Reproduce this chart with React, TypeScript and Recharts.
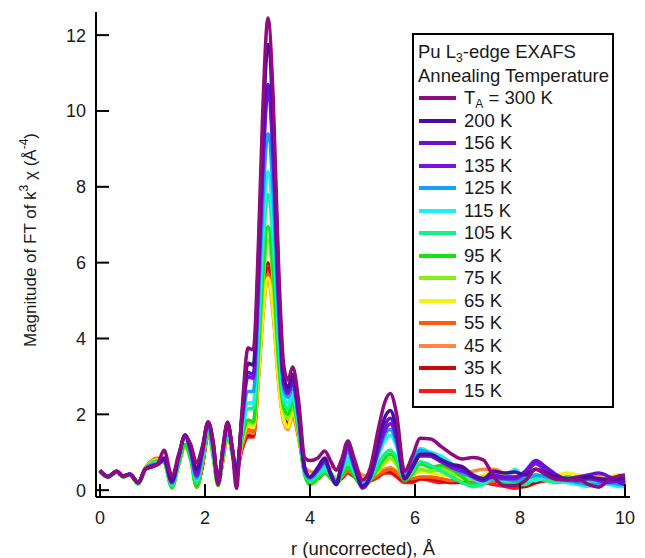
import React from 'react';
import { LineChart, Line, XAxis, YAxis, Legend } from 'recharts';

// r grid (Å)
const R = [0, 0.15, 0.32, 0.44, 0.57, 0.73, 0.86, 1.0, 1.1, 1.22,
  1.37, 1.5, 1.62, 1.73, 1.84, 1.95, 2.06, 2.16, 2.25, 2.34,
  2.43, 2.52, 2.6, 2.7, 2.82, 2.92, 3.02, 3.1, 3.2, 3.3,
  3.4, 3.5, 3.58, 3.67, 3.78, 3.9, 4.0, 4.15, 4.28, 4.4,
  4.5, 4.6, 4.72, 4.85, 5.0, 5.15, 5.3, 5.42, 5.53, 5.65,
  5.8, 5.95, 6.1, 6.3, 6.5, 6.7, 6.9, 7.1, 7.3, 7.5,
  7.7, 7.9, 8.1, 8.3, 8.5, 8.7, 8.9, 9.1, 9.3, 9.5,
  9.7, 9.9, 10.0];

const T300 = [0.53, 0.35, 0.5, 0.36, 0.42, 0.2, 0.55, 0.62, 0.7, 1.05, 0.38, 0.95, 1.42, 1.2, 0.72, 1.15, 1.8, 1.25, 0.15, 1.1, 1.8, 1.05, 0.05, 2.0,
  3.75, 3.7, 6.6, 10.0, 12.45, 10.3, 6.0, 3.3, 2.9, 3.25, 2.4, 0.85,
  0.78, 0.85, 1.03, 0.75, 0.53, 0.8, 1.27, 0.8, 0.27, 0.6, 1.6, 2.3, 2.55, 2.0, 0.5, 0.9, 1.37,
  1.35, 1.15, 0.95, 0.82, 0.86, 0.8, 0.35, 0.12, 0.12, 0.25, 0.55, 0.4, 0.28, 0.27, 0.3, 0.15, 0.08, 0.28, 0.38, 0.4];
const T200 = [0.52, 0.36, 0.5, 0.37, 0.42, 0.2, 0.55, 0.62, 0.68, 0.85, 0.25, 0.9, 1.45, 1.1, 0.55, 1.1, 1.8, 1.2, 0.18, 1.1, 1.78, 1.1, 0.3, 1.9,
  3.35, 3.3, 6.2, 9.4, 11.75, 9.7, 5.6, 3.0, 2.7, 3.05, 2.2, 0.6,
  0.35, 0.6, 0.85, 0.4, 0.15, 0.7, 1.3, 0.7, 0.1, 0.4, 1.3, 1.9, 2.1, 1.6, 0.3, 0.6, 0.95,
  0.95, 0.8, 0.68, 0.62, 0.4, 0.3, 0.5, 0.45, 0.48, 0.4, 0.55, 0.45, 0.35, 0.28, 0.3, 0.35, 0.3, 0.28, 0.3, 0.3];
const T156 = [0.52, 0.36, 0.5, 0.37, 0.42, 0.2, 0.55, 0.64, 0.68, 0.8, 0.22, 0.9, 1.45, 1.05, 0.45, 1.05, 1.8, 1.15, 0.2, 1.05, 1.75, 1.1, 0.4, 1.85,
  3.1, 3.05, 5.7, 8.6, 10.7, 8.9, 5.2, 2.85, 2.6, 2.9, 2.05, 0.55,
  0.35, 0.55, 0.78, 0.4, 0.15, 0.65, 1.2, 0.65, 0.05, 0.35, 1.15, 1.7, 1.9, 1.45, 0.3, 0.6, 0.9,
  0.9, 0.75, 0.65, 0.55, 0.35, 0.25, 0.4, 0.35, 0.35, 0.5, 0.78, 0.6, 0.4, 0.3, 0.35, 0.4, 0.45, 0.35, 0.2, 0.15];
const T135 = [0.5, 0.36, 0.5, 0.37, 0.42, 0.2, 0.55, 0.65, 0.68, 0.8, 0.2, 0.88, 1.45, 1.0, 0.38, 1.0, 1.78, 1.1, 0.22, 1.05, 1.75, 1.1, 0.45, 1.8,
  3.0, 2.95, 5.6, 8.45, 10.5, 8.7, 5.1, 2.8, 2.55, 2.85, 2.0, 0.55,
  0.35, 0.55, 0.75, 0.4, 0.18, 0.6, 1.1, 0.6, 0.1, 0.35, 1.05, 1.55, 1.75, 1.35, 0.3, 0.65, 0.95,
  0.9, 0.75, 0.6, 0.5, 0.4, 0.3, 0.35, 0.3, 0.3, 0.45, 0.7, 0.5, 0.35, 0.3, 0.25, 0.3, 0.25, 0.2, 0.25, 0.2];
const T125 = [0.5, 0.36, 0.49, 0.37, 0.42, 0.2, 0.56, 0.68, 0.7, 0.8, 0.18, 0.85, 1.45, 1.0, 0.32, 0.95, 1.75, 1.05, 0.25, 1.0, 1.72, 1.05, 0.5, 1.7,
  2.6, 2.6, 5.0, 7.6, 9.4, 7.8, 4.6, 2.65, 2.45, 2.7, 1.9, 0.5,
  0.3, 0.5, 0.7, 0.45, 0.2, 0.55, 1.0, 0.55, 0.15, 0.35, 1.0, 1.45, 1.6, 1.25, 0.35, 0.75, 1.05,
  0.95, 0.8, 0.6, 0.45, 0.35, 0.3, 0.3, 0.3, 0.25, 0.3, 0.4, 0.35, 0.3, 0.25, 0.2, 0.15, 0.15, 0.2, 0.15, 0.15];
const T115 = [0.5, 0.36, 0.49, 0.36, 0.42, 0.2, 0.56, 0.7, 0.72, 0.8, 0.16, 0.85, 1.45, 0.95, 0.28, 0.9, 1.72, 1.0, 0.25, 1.0, 1.7, 1.05, 0.55, 1.6,
  2.3, 2.3, 4.5, 6.8, 8.4, 7.0, 4.2, 2.5, 2.3, 2.55, 1.8, 0.5,
  0.3, 0.45, 0.6, 0.45, 0.25, 0.5, 0.85, 0.5, 0.2, 0.35, 0.9, 1.3, 1.45, 1.15, 0.4, 0.8, 1.1,
  1.0, 0.9, 0.7, 0.5, 0.3, 0.2, 0.45, 0.25, 0.55, 0.3, 0.25, 0.35, 0.3, 0.2, 0.15, 0.1, 0.2, 0.15, 0.1, 0.1];
const T105 = [0.5, 0.35, 0.48, 0.36, 0.41, 0.18, 0.55, 0.7, 0.72, 0.78, 0.12, 0.8, 1.38, 0.9, 0.2, 0.85, 1.7, 0.95, 0.2, 0.95, 1.65, 1.0, 0.55, 1.5,
  2.15, 2.15, 4.2, 6.3, 7.8, 6.5, 3.9, 2.35, 2.15, 2.45, 1.7, 0.45,
  0.25, 0.4, 0.5, 0.4, 0.25, 0.45, 0.75, 0.45, 0.15, 0.3, 0.7, 0.95, 1.05, 0.85, 0.3, 0.5, 0.75,
  0.65, 0.5, 0.35, 0.2, 0.1, 0.15, 0.3, 0.25, 0.15, 0.15, 0.3, 0.25, 0.2, 0.25, 0.3, 0.2, 0.25, 0.3, 0.2, 0.2];
const T95 = [0.5, 0.35, 0.48, 0.35, 0.41, 0.16, 0.55, 0.72, 0.75, 0.75, 0.07, 0.7, 1.2, 0.8, 0.1, 0.75, 1.6, 0.85, 0.12, 0.9, 1.6, 0.95, 0.55, 1.35,
  1.85, 1.8, 3.7, 5.65, 6.95, 5.8, 3.5, 2.2, 2.0, 2.3, 1.6, 0.4,
  0.15, 0.3, 0.45, 0.3, 0.15, 0.35, 0.6, 0.35, 0.1, 0.25, 0.6, 0.85, 0.95, 0.8, 0.25, 0.45, 0.7,
  0.6, 0.65, 0.55, 0.35, 0.15, 0.25, 0.35, 0.2, 0.2, 0.25, 0.35, 0.3, 0.25, 0.35, 0.3, 0.25, 0.3, 0.25, 0.2, 0.25];
const T75 = [0.5, 0.35, 0.48, 0.35, 0.41, 0.16, 0.55, 0.74, 0.78, 0.75, 0.06, 0.7, 1.18, 0.8, 0.1, 0.75, 1.6, 0.85, 0.12, 0.85, 1.58, 0.95, 0.55, 1.3,
  1.8, 1.75, 3.5, 5.35, 6.6, 5.5, 3.35, 2.1, 1.9, 2.2, 1.55, 0.45,
  0.3, 0.4, 0.55, 0.4, 0.3, 0.45, 0.65, 0.45, 0.3, 0.35, 0.55, 0.75, 0.85, 0.7, 0.3, 0.4, 0.55,
  0.5, 0.55, 0.45, 0.35, 0.3, 0.35, 0.3, 0.25, 0.3, 0.35, 0.4, 0.3, 0.25, 0.3, 0.35, 0.3, 0.25, 0.3, 0.35, 0.3];
const T65 = [0.5, 0.35, 0.48, 0.35, 0.41, 0.16, 0.56, 0.76, 0.8, 0.75, 0.06, 0.7, 1.15, 0.8, 0.1, 0.75, 1.55, 0.85, 0.12, 0.85, 1.55, 0.95, 0.55, 1.25,
  1.7, 1.65, 3.05, 4.6, 5.6, 4.7, 2.9, 1.85, 1.65, 2.05, 1.5, 0.5,
  0.35, 0.45, 0.6, 0.45, 0.35, 0.45, 0.6, 0.45, 0.3, 0.35, 0.5, 0.7, 0.8, 0.65, 0.35, 0.4, 0.5,
  0.45, 0.4, 0.35, 0.3, 0.3, 0.4, 0.45, 0.4, 0.35, 0.45, 0.55, 0.45, 0.4, 0.45, 0.4, 0.35, 0.3, 0.35, 0.4, 0.4];
const T55 = [0.5, 0.35, 0.48, 0.35, 0.41, 0.17, 0.57, 0.78, 0.82, 0.78, 0.1, 0.72, 1.15, 0.82, 0.12, 0.72, 1.55, 0.9, 0.15, 0.85, 1.55, 1.0, 0.55, 1.2,
  1.6, 1.55, 3.05, 4.65, 5.7, 4.75, 2.95, 1.85, 1.65, 2.0, 1.45, 0.5,
  0.3, 0.35, 0.5, 0.4, 0.3, 0.35, 0.5, 0.4, 0.3, 0.3, 0.4, 0.5, 0.55, 0.45, 0.3, 0.3, 0.35,
  0.35, 0.3, 0.25, 0.3, 0.25, 0.2, 0.25, 0.35, 0.3, 0.25, 0.3, 0.35, 0.3, 0.2, 0.25, 0.3, 0.25, 0.2, 0.2, 0.25];
const T45 = [0.51, 0.35, 0.48, 0.35, 0.41, 0.18, 0.58, 0.8, 0.85, 0.8, 0.12, 0.72, 1.15, 0.85, 0.15, 0.72, 1.55, 0.95, 0.18, 0.85, 1.5, 1.0, 0.55, 1.15,
  1.55, 1.5, 2.95, 4.5, 5.5, 4.6, 2.85, 1.8, 1.6, 1.95, 1.4, 0.6,
  0.5, 0.45, 0.55, 0.6, 0.55, 0.5, 0.6, 0.55, 0.4, 0.35, 0.45, 0.55, 0.6, 0.5, 0.4, 0.45, 0.5,
  0.5, 0.55, 0.5, 0.45, 0.5, 0.55, 0.55, 0.45, 0.35, 0.3, 0.35, 0.3, 0.3, 0.35, 0.3, 0.3, 0.35, 0.3, 0.35, 0.3];
const T35 = [0.5, 0.35, 0.48, 0.35, 0.41, 0.17, 0.56, 0.76, 0.8, 0.76, 0.1, 0.7, 1.2, 0.85, 0.1, 0.65, 1.5, 0.95, 0.15, 0.8, 1.5, 1.0, 0.5, 1.1,
  1.45, 1.45, 3.15, 4.9, 6.0, 5.0, 3.1, 1.95, 1.75, 2.1, 1.5, 0.5,
  0.3, 0.35, 0.45, 0.35, 0.3, 0.35, 0.5, 0.35, 0.25, 0.3, 0.4, 0.5, 0.5, 0.4, 0.25, 0.25, 0.3,
  0.3, 0.25, 0.2, 0.2, 0.25, 0.3, 0.25, 0.2, 0.15, 0.1, 0.2, 0.3, 0.35, 0.3, 0.25, 0.3, 0.35, 0.3, 0.25, 0.3];
const T15 = [0.5, 0.35, 0.48, 0.35, 0.41, 0.17, 0.56, 0.76, 0.8, 0.76, 0.1, 0.7, 1.2, 0.85, 0.08, 0.62, 1.45, 0.95, 0.15, 0.8, 1.45, 1.0, 0.5, 1.05,
  1.4, 1.4, 3.05, 4.75, 5.85, 4.9, 3.0, 1.9, 1.7, 2.05, 1.45, 0.5,
  0.3, 0.3, 0.45, 0.35, 0.25, 0.3, 0.45, 0.35, 0.25, 0.25, 0.35, 0.45, 0.45, 0.35, 0.2, 0.2, 0.3,
  0.25, 0.2, 0.25, 0.2, 0.15, 0.2, 0.15, 0.1, 0.05, 0.1, 0.2, 0.25, 0.3, 0.25, 0.3, 0.35, 0.3, 0.25, 0.3, 0.3];

const KEYS = ['t300', 't200', 't156', 't135', 't125', 't115', 't105', 't95', 't75', 't65', 't55', 't45', 't35', 't15'];
const VALUES = [T300, T200, T156, T135, T125, T115, T105, T95, T75, T65, T55, T45, T35, T15];
const LABELS = ['300 K', '200 K', '156 K', '135 K', '125 K', '115 K', '105 K', '95 K', '75 K', '65 K', '55 K', '45 K', '35 K', '15 K'];
const COLORS = ['#8E0C80', '#4A0D9E', '#6A10D2', '#7A12E8', '#12A2F0', '#1CF0F0', '#16F08A', '#16E016', '#86F016', '#F2F214', '#FF5A12', '#FF8446', '#C40A0A', '#FF1616'];
const X_TICKS = [0, 2, 4, 6, 8, 10];
const Y_TICKS = [0, 2, 4, 6, 8, 10, 12];

const rows = R.map((r, i) => {
  const row: Record<string, number> = { r };
  KEYS.forEach((k, j) => { row[k] = VALUES[j][i]; });
  return row;
});

const FONT = '"Liberation Sans", Arial, Helvetica, sans-serif';
const TXT = '#1a1a1a';

const BottomTick = (p: any) => (
  <g>
    <line x1={p.x} x2={p.x} y1={p.y} y2={p.y - 13} stroke="#000" strokeWidth={2} />
    <text x={p.x} y={p.y + 27} textAnchor="middle" fill={TXT} fontSize={18} fontFamily={FONT}>{p.payload.value}</text>
  </g>
);
const TopTick = (p: any) => (
  <line x1={p.x} x2={p.x} y1={p.y} y2={p.y + 13} stroke="#000" strokeWidth={2} />
);
const LeftTick = (p: any) => (
  <g>
    <line x1={p.x} x2={p.x + 13} y1={p.y} y2={p.y} stroke="#000" strokeWidth={2} />
    <text x={p.x - 10} y={p.y} dy="0.36em" textAnchor="end" fill={TXT} fontSize={18} fontFamily={FONT}>{p.payload.value}</text>
  </g>
);
const RightTick = (p: any) => (
  <line x1={p.x - 13} x2={p.x} y1={p.y} y2={p.y} stroke="#000" strokeWidth={2} />
);

const YTitle = () => (
  <text x={22} y={238} transform="rotate(-90, 22, 232)" textAnchor="middle" fill={TXT} fontSize={17} fontFamily={FONT}>
    <tspan>Magnitude of FT of k</tspan>
    <tspan dy={-8} fontSize={12}>3</tspan>
    <tspan dy={8}>{'\u00a0χ (Å'}</tspan>
    <tspan dy={-8} fontSize={12}>-4</tspan>
    <tspan dy={8}>)</tspan>
  </text>
);

const XTitle = () => (
  <text x={355} y={547} textAnchor="middle" fill={TXT} fontSize={18.5} fontFamily={FONT}>r (uncorrected), Å</text>
);

const LegendBox = () => (
  <div style={{ position: 'relative', width: 202, height: 375, border: '2px solid #000', boxSizing: 'border-box', background: '#fff', fontFamily: FONT, fontSize: 18.5, color: TXT }}>
    <div style={{ position: 'absolute', left: 4, top: 6, height: 22, lineHeight: '22px', whiteSpace: 'nowrap' }}>
      Pu L<span style={{ fontSize: 12, position: 'relative', top: 4, lineHeight: '12px' }}>3</span>-edge EXAFS
    </div>
    <div style={{ position: 'absolute', left: 4, top: 30, height: 22, lineHeight: '22px', whiteSpace: 'nowrap' }}>Annealing Temperature</div>
    {LABELS.map((lab, i) => (
      <div key={lab} style={{ position: 'absolute', left: 0, top: 52 + i * 22.5, height: 22, width: 198, lineHeight: '22px', whiteSpace: 'nowrap' }}>
        <span style={{ position: 'absolute', left: 5, top: 9, width: 37, height: 4, background: COLORS[i] }} />
        <span style={{ position: 'absolute', left: 50, top: 0, height: 22 }}>
          {i === 0 ? (<>T<span style={{ fontSize: 12, position: 'relative', top: 4, lineHeight: '12px' }}>A</span> = {lab}</>) : lab}
        </span>
      </div>
    ))}
  </div>
);

export default function App() {
  const order = KEYS.map((k, i) => i).reverse();
  return (
    <div style={{ width: 629, height: 550, fontFamily: FONT }}>
      <LineChart width={629} height={550} data={rows} margin={{ top: 4, right: 7, bottom: 8, left: 0 }}>
        <XAxis dataKey="r" type="number" domain={[-0.076, 10.095]} ticks={X_TICKS} allowDataOverflow
          height={53} tickSize={0} tickMargin={0} tickLine={false} axisLine={{ stroke: '#000', strokeWidth: 2 }} tick={BottomTick} interval={0} />
        <XAxis xAxisId="top" orientation="top" dataKey="r" type="number" domain={[-0.076, 10.095]} ticks={X_TICKS} allowDataOverflow
          height={0} tickSize={0} tickMargin={0} tickLine={false} axisLine={{ stroke: '#000', strokeWidth: 2 }} tick={TopTick} interval={0} />
        <YAxis type="number" domain={[-0.18, 12.61]} ticks={Y_TICKS} allowDataOverflow width={88}
          tickSize={0} tickMargin={0} tickLine={false} axisLine={{ stroke: '#000', strokeWidth: 2 }} tick={LeftTick} interval={0} />
        <YAxis yAxisId="right" orientation="right" type="number" domain={[-0.18, 12.61]} ticks={Y_TICKS} allowDataOverflow width={0}
          tickSize={0} tickMargin={0} tickLine={false} axisLine={{ stroke: '#000', strokeWidth: 2 }} tick={RightTick} interval={0} />
        {order.map((i) => (
          <Line key={KEYS[i]} dataKey={KEYS[i]} name={LABELS[i]} type="monotone" stroke={COLORS[i]} strokeWidth={3.5}
            dot={false} activeDot={false} isAnimationActive={false} strokeLinejoin="round" />
        ))}
        <Legend layout="vertical" align="center" verticalAlign="middle" content={LegendBox}
          wrapperStyle={{ left: 404, top: 25, width: 202, height: 375 }} />
        <YTitle />
        <XTitle />
      </LineChart>
    </div>
  );
}
